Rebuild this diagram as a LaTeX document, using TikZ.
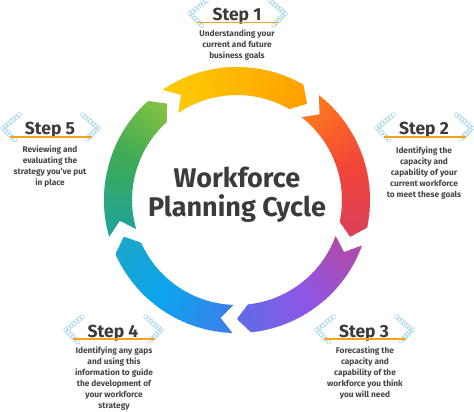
\documentclass[tikz,border=0pt]{standalone}
\usepackage{fontspec}
\setmainfont{Fira Sans}
\usetikzlibrary{calc}

\definecolor{inkgray}{HTML}{3B3B3B}
\definecolor{chainblue}{HTML}{A6D6EB}
\definecolor{lineorange}{HTML}{F5A21C}
% ring colours, tail / middle / head of each arrow
\definecolor{yelA}{HTML}{FFCB08}
\definecolor{yelB}{HTML}{FFB602}
\definecolor{yelC}{HTML}{FF9C00}
\definecolor{redA}{HTML}{FF7A1C}
\definecolor{redB}{HTML}{F2453A}
\definecolor{redC}{HTML}{D8405C}
\definecolor{vioA}{HTML}{B44AA4}
\definecolor{vioB}{HTML}{8E56E6}
\definecolor{vioC}{HTML}{5B6EE8}
\definecolor{bluA}{HTML}{3C7EEA}
\definecolor{bluB}{HTML}{0EA3EC}
\definecolor{bluC}{HTML}{1CA8C6}
\definecolor{grnA}{HTML}{1FA39C}
\definecolor{grnB}{HTML}{3DAA57}
\definecolor{grnC}{HTML}{8DC53F}

\tikzset{
  % The big heading in the middle
  title/.style={
    align=center,inner sep=0pt,
    font=\fontsize{27}{29}\selectfont\bfseries,
    text=inkgray},
  % "Step n"
  stephead/.style={
    anchor=base,inner sep=0pt,
    font=\fontsize{17.5}{20}\selectfont\bfseries,
    text=inkgray},
  % The few lines under each heading
  stepnote/.style={
    anchor=north,align=center,inner sep=0pt,
    font=\fontsize{8.3}{11.1}\selectfont\bfseries,
    text=inkgray!95!white},
  stepline/.style={draw=lineorange,line width=1.2pt},
  % The light blue chains beside the headings
  chainlink/.style={draw=chainblue,line width=0.6pt}
}

\begin{document}
\begin{tikzpicture}[x=1pt,y=1pt]
	\useasboundingbox (-237,-212) rectangle (237,200);
	% The five arrows of the ring, each shaded along its arc
	\foreach \a/\ca/\cb/\cc in {124/yelA/yelB/yelC,52/redA/redB/redC,
		-20/vioA/vioB/vioC,-92/bluA/bluB/bluC,-164/grnA/grnB/grnC} {
		\begin{scope}
			\clip (\a:133) arc[start angle=\a,end angle=\a-64,radius=133]
				-- (\a-70:119) -- (\a-64:105)
				arc[start angle=\a-64,end angle=\a,radius=105]
				-- (\a-6:119) -- cycle;
			\foreach \i in {0,...,35} {
				\pgfmathsetmacro\angA{\a+1-\i*2.05}
				\pgfmathsetmacro\angB{\angA-2.8}
				\ifnum\i<18
					\pgfmathsetmacro\p{\i/17*100}
					\colorlet{wedgecol}{\cb!\p!\ca}
				\else
					\pgfmathsetmacro\p{(\i-18)/17*100}
					\colorlet{wedgecol}{\cc!\p!\cb}
				\fi
				\fill[wedgecol] (0,0) -- (\angA:140) -- (\angB:140) -- cycle;
			}
		\end{scope}
	}
	% Middle
	\node[title] (title) at (0,5) {Workforce\\Planning Cycle};
	% Headings
	\node[stephead] (h1) at (0,179.3) {Step 1};
	\node[stephead] (h2) at (187,65) {Step 2};
	\node[stephead] (h3) at (127,-137) {Step 3};
	\node[stephead] (h4) at (-124,-137) {Step 4};
	\node[stephead] (h5) at (-187,65) {Step 5};
	% Chains and underline of every heading
	\foreach \h in {h1,h2,h3,h4,h5} {
		\coordinate (\h-la) at ([shift={(-31,20)}]\h.base);
		\coordinate (\h-lb) at ([shift={(-47,7)}]\h.base);
		\coordinate (\h-lc) at ([shift={(-33,-7)}]\h.base);
		\coordinate (\h-ra) at ([shift={(33,20)}]\h.base);
		\coordinate (\h-rb) at ([shift={(48,7)}]\h.base);
		\coordinate (\h-rc) at ([shift={(35,-6)}]\h.base);
		\foreach \t in {0,0.167,...,1} {
			\draw[chainlink] ($(\h-la)!\t!(\h-lb)$) circle (2.3);
			\draw[chainlink] ($(\h-lb)!\t!(\h-lc)$) circle (2.3);
			\draw[chainlink] ($(\h-ra)!\t!(\h-rb)$) circle (2.3);
			\draw[chainlink] ($(\h-rb)!\t!(\h-rc)$) circle (2.3);
		}
		\draw[stepline] ([shift={(-40,-2)}]\h.base) -- ([shift={(42,-2)}]\h.base);
	}
	% Notes under the headings
	\node[stepnote] (n1) at (0,170.5) {Understanding your\\current and future\\business goals};
	\node[stepnote] (n2) at (187,53.5) {Identifying the\\capacity and\\capability of your\\current workforce\\to meet these goals};
	\node[stepnote] (n3) at (128,-146.5) {Forecasting the\\capacity and\\capability of the\\workforce you think\\you will need};
	\node[stepnote] (n4) at (-123,-146.5) {Identifying any gaps\\and using this\\information to guide\\the development of\\your workforce\\strategy};
	\node[stepnote] (n5) at (-187,54.5) {Reviewing and\\evaluating the\\strategy you've put\\in place};
\end{tikzpicture}
\end{document}
